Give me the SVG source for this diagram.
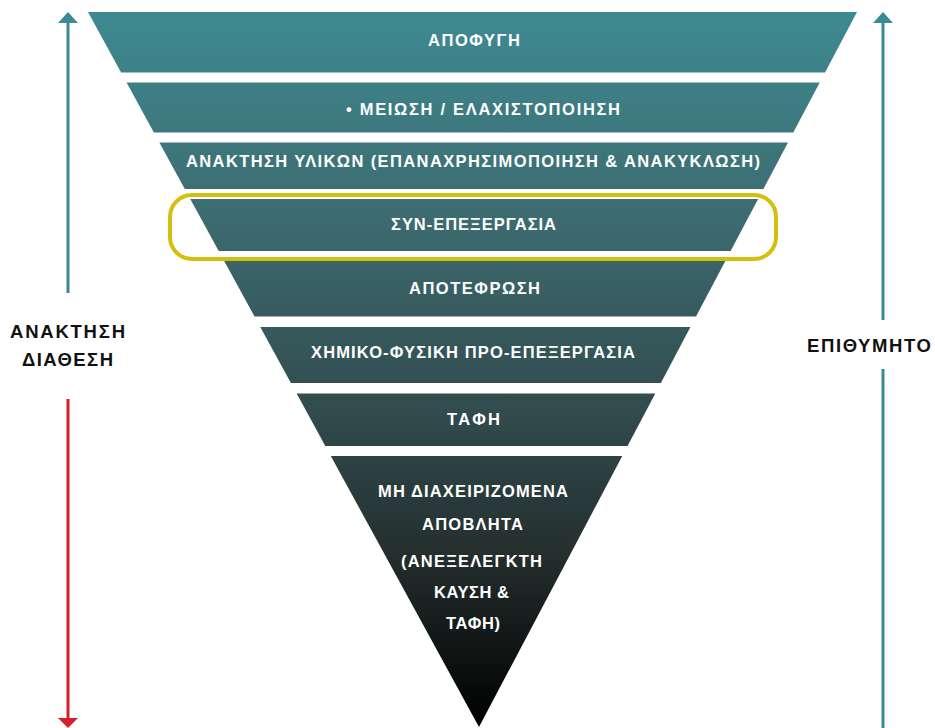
<svg xmlns="http://www.w3.org/2000/svg" width="935" height="728" viewBox="0 0 935 728">
<defs>
<linearGradient id="fg" gradientUnits="userSpaceOnUse" x1="0" y1="12" x2="0" y2="727">
<stop offset="0" stop-color="#3e8a92"/>
<stop offset="0.3" stop-color="#3c6a6e"/>
<stop offset="0.55" stop-color="#324c4f"/>
<stop offset="0.75" stop-color="#25302f"/>
<stop offset="1" stop-color="#000000"/>
</linearGradient>
</defs>
<style>
.band{fill:url(#fg);}
.t{font-family:"Liberation Sans","DejaVu Sans",sans-serif;font-weight:bold;font-size:16.5px;fill:#ffffff;text-anchor:middle;}
.lbl{font-family:"Liberation Sans","DejaVu Sans",sans-serif;font-weight:bold;font-size:18.5px;fill:#111111;text-anchor:middle;}
.teal{stroke:#3b8a92;stroke-width:3;fill:none;}
.tealf{fill:#3b8a92;}
.red{stroke:#d3212b;stroke-width:3;fill:none;}
.redf{fill:#d3212b;}
</style>

<g id="connectors">
<line class="teal" x1="68" y1="22" x2="68" y2="293"/>
<polygon class="tealf" points="68,12 78,23 58,23"/>
<line class="red" x1="68" y1="399" x2="68" y2="720"/>
<polygon class="redf" points="68,728 78,718 58,718"/>
<line class="teal" x1="883" y1="22" x2="883" y2="320"/>
<polygon class="tealf" points="883,12 893,23 873,23"/>
<line class="teal" x1="883" y1="369" x2="883" y2="728"/>
</g>

<g id="band1">
<polygon class="band" points="88,12 857,12 825.01,72.5 121.09,72.5"/>
<text class="t" x="474" y="46" textLength="92" lengthAdjust="spacing">ΑΠΟΦΥΓΗ</text>
</g>
<g id="band2">
<polygon class="band" points="126.56,82.5 819.73,82.5 793.29,132.5 153.9,132.5"/>
<text class="t" x="483" y="115" textLength="274" lengthAdjust="spacing">• ΜΕΙΩΣΗ / ΕΛΑΧΙΣΤΟΠΟΙΗΣΗ</text>
</g>
<g id="band3">
<polygon class="band" points="159.37,142.5 788.01,142.5 763.42,189 184.8,189"/>
<text class="t" x="473" y="167" textLength="574" lengthAdjust="spacing">ΑΝΑΚΤΗΣΗ ΥΛΙΚΩΝ (ΕΠΑΝΑΧΡΗΣΙΜΟΠΟΙΗΣΗ &amp; ΑΝΑΚΥΚΛΩΣΗ)</text>
</g>
<g id="band4">
<polygon class="band" points="190.27,199 758.13,199 730.64,251 218.71,251"/>
<text class="t" x="473.5" y="230" textLength="165" lengthAdjust="spacing">ΣΥΝ-ΕΠΕΞΕΡΓΑΣΙΑ</text>
</g>
<g id="highlight">
<rect x="170" y="195" width="606" height="64" rx="22" ry="22" fill="none" stroke="#d4bf0c" stroke-width="4"/>
</g>
<g id="band5">
<polygon class="band" points="224.18,261 725.35,261 696.01,316.5 254.53,316.5"/>
<text class="t" x="474.5" y="294" textLength="131" lengthAdjust="spacing">ΑΠΟΤΕΦΡΩΣΗ</text>
</g>
<g id="band6">
<polygon class="band" points="260.27,327 690.46,327 660.85,383 290.9,383"/>
<text class="t" x="473" y="358" textLength="324" lengthAdjust="spacing">ΧΗΜΙΚΟ-ΦΥΣΙΚΗ ΠΡΟ-ΕΠΕΞΕΡΓΑΣΙΑ</text>
</g>
<g id="band7">
<polygon class="band" points="296.64,393.5 655.3,393.5 627.54,446 325.35,446"/>
<text class="t" x="473.5" y="425" textLength="53" lengthAdjust="spacing">ΤΑΦΗ</text>
</g>
<g id="band8">
<polygon class="band" points="330.82,456 622.26,456 479,727"/>
<text class="t" x="473" y="497" textLength="190" lengthAdjust="spacing">ΜΗ ΔΙΑΧΕΙΡΙΖΟΜΕΝΑ</text>
<text class="t" x="472.5" y="530" textLength="101" lengthAdjust="spacing">ΑΠΟΒΛΗΤΑ</text>
<text class="t" x="471.5" y="567" textLength="141" lengthAdjust="spacing">(ΑΝΕΞΕΛΕΓΚΤΗ</text>
<text class="t" x="471.5" y="598" textLength="75" lengthAdjust="spacing">ΚΑΥΣΗ &amp;</text>
<text class="t" x="473" y="629" textLength="54" lengthAdjust="spacing">ΤΑΦΗ)</text>
</g>

<g id="label-left">
<text class="lbl" x="67.5" y="338" textLength="115" lengthAdjust="spacing">ΑΝΑΚΤΗΣΗ</text>
<text class="lbl" x="67.5" y="366" textLength="91" lengthAdjust="spacing">ΔΙΑΘΕΣΗ</text>
</g>
<g id="label-right">
<text class="lbl" x="869" y="352" textLength="124" lengthAdjust="spacing">ΕΠΙΘΥΜΗΤΟ</text>
</g>
</svg>
